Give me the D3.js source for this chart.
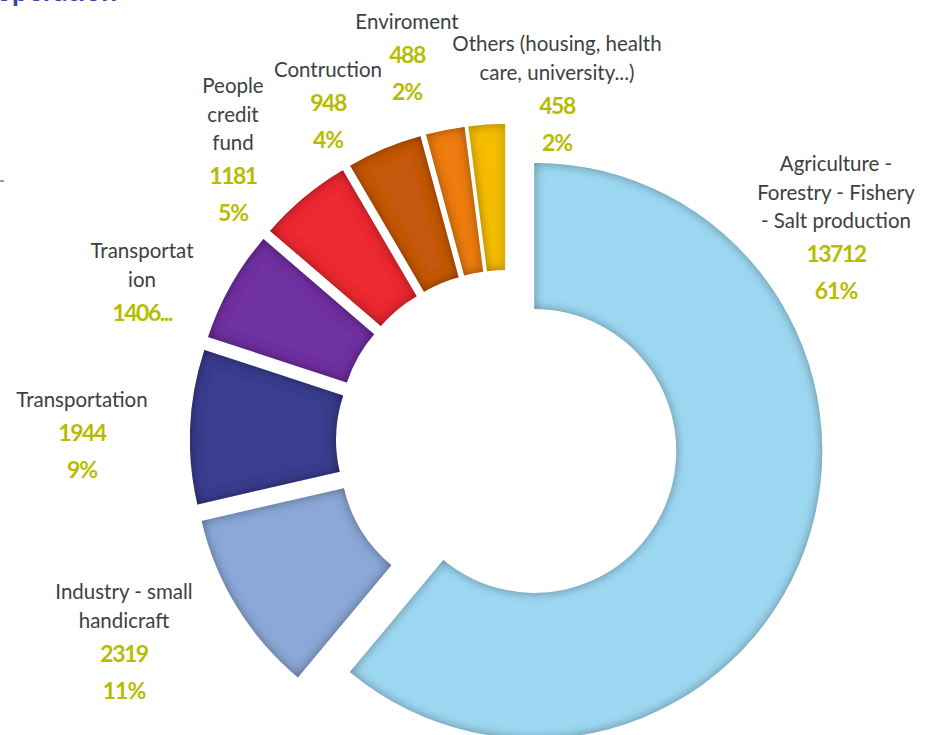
<!DOCTYPE html>
<html>
<head>
<meta charset="utf-8">
<script src="https://cdn.jsdelivr.net/npm/d3@7"></script>
<style>
  body { margin: 0; background: #fff; }
  svg { display: block; }
</style>
</head>
<body>
<div id="chart"></div>
<script>
// data
const sectors = ["Agriculture - Forestry - Fishery - Salt production", "Industry - small handicraft",
  "Transportation", "Transportation", "People credit fund", "Contruction", "Enviroment",
  "Others (housing, health care, university...)"];
const values = [13712, 2319, 1944, 1406, 1181, 948, 488, 458];
const labelLines = [
  ["Agriculture -", "Forestry - Fishery", "- Salt production"],
  ["Industry - small", "handicraft"],
  ["Transportation"],
  ["Transportat", "ion"],
  ["People", "credit", "fund"],
  ["Contruction"],
  ["Enviroment"],
  ["Others (housing, health", "care, university...)"]
];
const valueTexts = ["13712", "2319", "1944", "1406...", "1181", "948", "488", "458"];
const pctTexts = ["61%", "11%", "9%", "", "5%", "4%", "2%", "2%"];
const colors = ["#9dd8f2", "#8ba8d8", "#3b3e8e", "#7030a0", "#ec2a33", "#c5590f", "#ee7d12", "#f7be00"];

// layout for the labels (x center, y of the first line)
const labelPos = [[836, 164], [124, 592], [82, 400], [142, 251], [233, 86], [328, 70], [407, 22], [557, 44]];

const width = 929, height = 735;
const cx = 507, cy = 441;
const outerR = 288, innerR = 142, explode = 29;

const svg = d3.select('#chart')
    .append('svg')
    .attr('width', width)
    .attr('height', height);

// inner shadow filter
const defs = svg.append('defs');
const f = defs.append('filter').attr('id', 'inner')
    .attr('x', '-10%').attr('y', '-10%').attr('width', '120%').attr('height', '120%');
f.append('feComponentTransfer').attr('in', 'SourceAlpha')
  .append('feFuncA').attr('type', 'table').attr('tableValues', '1 0');
f.append('feGaussianBlur').attr('stdDeviation', 6).attr('result', 'blur');
f.append('feFlood').attr('flood-color', '#000').attr('flood-opacity', 0.75);
f.append('feComposite').attr('in2', 'blur').attr('operator', 'in');
f.append('feComposite').attr('in2', 'SourceAlpha').attr('operator', 'in').attr('result', 'shadow');
const fm = f.append('feMerge');
fm.append('feMergeNode').attr('in', 'SourceGraphic');
fm.append('feMergeNode').attr('in', 'shadow');

// title (cut off at the top)
svg.append('text')
    .attr('x', -4).attr('y', 1)
    .attr('font-family', 'Lato, sans-serif')
    .attr('font-weight', 'bold')
    .attr('font-size', 28)
    .attr('fill', '#3f3f9f')
    .text('operation');

// small stray tick at the left
svg.append('line')
    .attr('x1', 0).attr('x2', 4).attr('y1', 181).attr('y2', 181)
    .attr('stroke', '#777').attr('stroke-width', 1.5);

const pie = d3.pie().sort(null).value(d => d);
const arc = d3.arc().innerRadius(innerR).outerRadius(outerR);
const arcs = pie(values);

const g = svg.append('g').attr('transform', `translate(${cx},${cy})`);

g.selectAll('path.slice')
  .data(arcs)
  .join('path')
    .attr('class', 'slice')
    .attr('d', arc)
    .attr('fill', (d, i) => colors[i])
    .attr('filter', 'url(#inner)')
    .attr('transform', d => {
        const a = (d.startAngle + d.endAngle) / 2;
        return `translate(${explode * Math.sin(a)},${-explode * Math.cos(a)})`;
    });

// labels
const lab = svg.append('g').attr('text-anchor', 'middle').attr('font-family', 'Lato, sans-serif');
labelLines.forEach((lines, i) => {
    const [x, y0] = labelPos[i];
    let y = y0;
    lines.forEach((t, k) => {
        if (k > 0) y += 28.5;
        lab.append('text')
            .attr('x', x).attr('y', y)
            .attr('dy', '0.35em')
            .attr('font-size', 20.5)
            .attr('fill', '#404040')
            .text(t);
    });
    y += 33;
    lab.append('text')
        .attr('x', x).attr('y', y)
        .attr('dy', '0.35em')
        .attr('font-size', 23)
        .attr('font-weight', 'bold')
        .attr('fill', '#b7bc00')
        .attr('letter-spacing', -1.5)
        .text(valueTexts[i]);
    if (pctTexts[i]) {
        y += 37;
        lab.append('text')
            .attr('x', x).attr('y', y)
            .attr('dy', '0.35em')
            .attr('font-size', 23)
            .attr('font-weight', 'bold')
            .attr('fill', '#b7bc00')
            .attr('letter-spacing', -1)
            .text(pctTexts[i]);
    }
});
</script>
</body>
</html>
